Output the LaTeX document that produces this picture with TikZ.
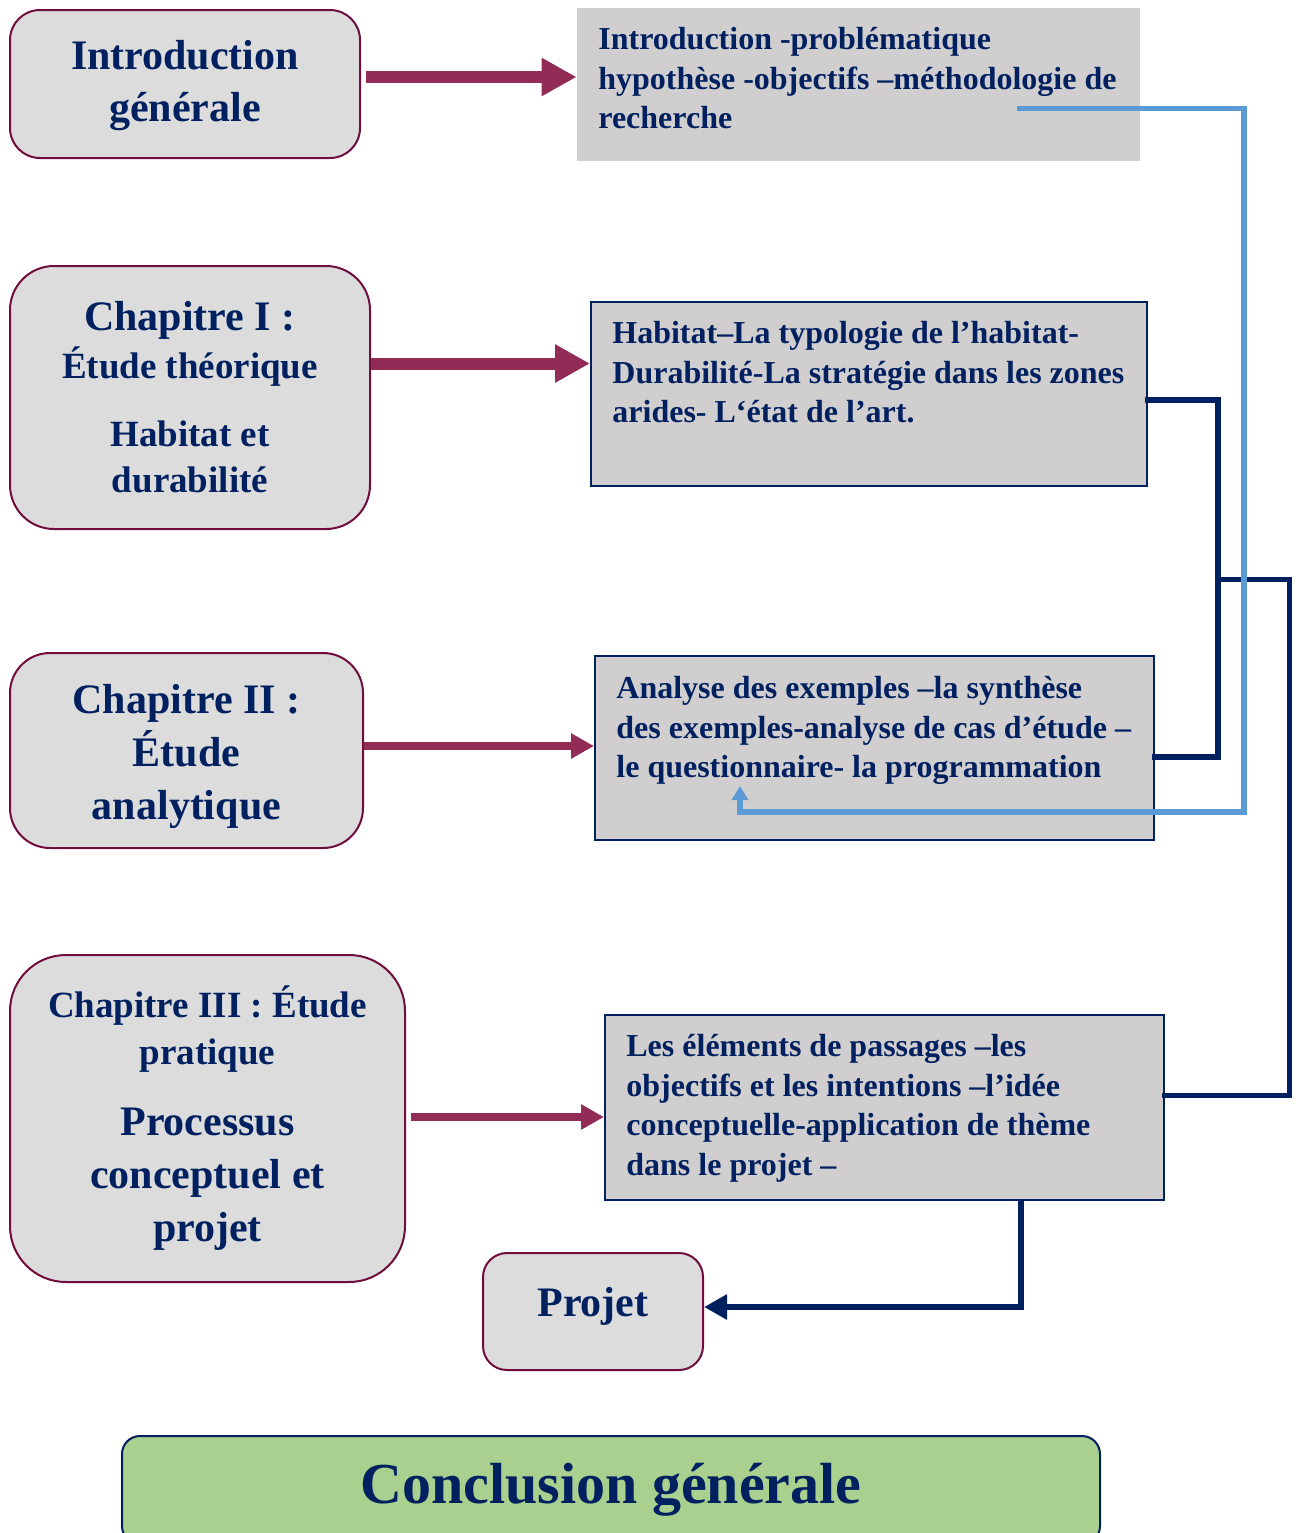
\documentclass[tikz,border=0pt]{standalone}
\usepackage{fontspec}
\setmainfont{Liberation Serif}
\usetikzlibrary{arrows.meta}
\definecolor{navy}{HTML}{002060}
\definecolor{maroonb}{HTML}{700D3C}
\definecolor{arrmaroon}{HTML}{922B55}
\definecolor{lgray}{HTML}{DCDCDC}
\definecolor{rgray}{HTML}{D0CECE}
\definecolor{lblue}{HTML}{5B9BD5}
\definecolor{lgreen}{HTML}{A9D08E}
\tikzset{
  leftbox/.style={draw=maroonb, line width=1pt, fill=lgray, text=navy, align=center, inner sep=0pt,
    font=\bfseries\fontsize{21}{26}\selectfont},
  rightbox/.style={fill=rgray, inner sep=0pt},
  rightframe/.style={rightbox, draw=navy, line width=1pt},
  rtext/.style={text=navy, align=left, anchor=north west, inner sep=0pt,
    font=\bfseries\fontsize{16}{19.75}\selectfont},
  bigarr/.style={draw=arrmaroon, line width=6pt, -{Triangle[length=17.5pt,width=18pt]}},
  midarr/.style={draw=arrmaroon, line width=4pt, -{Triangle[length=11.5pt,width=12pt]}},
  navyline/.style={draw=navy, line width=2.75pt},
  blueline/.style={draw=lblue, line width=2.75pt},
}
\begin{document}
\begin{tikzpicture}[x=0.5pt,y=-0.5pt]
\useasboundingbox (0,0) rectangle (1298,1533);

% left boxes
\node[leftbox, rounded corners=15pt, minimum width=175pt, minimum height=74pt] (introL) at (185,84)
  {\rule{0pt}{16.5pt}Introduction\\générale};
\node[leftbox, rounded corners=22pt, minimum width=180pt, minimum height=131.5pt,
  font=\bfseries\fontsize{18.5}{23}\selectfont] (chap1) at (190,397.5)
  {{\fontsize{21}{23}\selectfont Chapitre I :}\\[1pt]Étude théorique\\[11pt]Habitat et\\durabilité};
\node[leftbox, rounded corners=20pt, minimum width=176.5pt, minimum height=97.5pt,
  font=\bfseries\fontsize{21}{26.4}\selectfont] (chap2) at (186.5,750.5)
  {\rule{0pt}{20.5pt}Chapitre II :\\Étude\\analytique};
\node[leftbox, rounded corners=28pt, minimum width=197.5pt, minimum height=163.5pt,
  font=\bfseries\fontsize{18.5}{23.5}\selectfont] (chap3) at (207.5,1118.5)
  {Chapitre III : Étude\\pratique\\[12pt]{\fontsize{21}{23}\selectfont Processus}\\[3pt]{\fontsize{21}{23}\selectfont conceptuel et}\\[3pt]{\fontsize{21}{23}\selectfont projet}};
\node[leftbox, rounded corners=12pt, minimum width=110pt, minimum height=58.5pt] (projet) at (593,1311.5)
  {Projet\rule[-9.5pt]{0pt}{0pt}};
\node[leftbox, draw=navy, fill=lgreen, rounded corners=9pt, minimum width=489pt, minimum height=54pt,
  font=\bfseries\fontsize{29}{34}\selectfont] (concl) at (611,1490)
  {Conclusion générale};

% right boxes
\node[rightbox, minimum width=281.5pt, minimum height=76.5pt] (introR) at (858.5,84.5) {};
\node[rightframe, minimum width=278pt, minimum height=92pt] (habitat) at (869,394) {};
\node[rightframe, minimum width=279.5pt, minimum height=92pt] (analyse) at (874.5,748) {};
\node[rightframe, minimum width=279.5pt, minimum height=92.5pt] (elements) at (884.5,1107.5) {};

\node[rtext] (introT) at (598,27) {Introduction -problématique\\hypothèse -objectifs –méthodologie de\\recherche};
\node[rtext] (habitatT) at (612,321) {Habitat–La typologie de l’habitat-\\Durabilité-La stratégie dans les zones\\arides- L‘état de l’art.};
\node[rtext] (analyseT) at (616,676) {Analyse des exemples –la synthèse\\des exemples-analyse de cas d’étude –\\le questionnaire- la programmation};
\node[rtext] (elementsT) at (626,1034) {Les éléments de passages –les\\objectifs et les intentions –l’idée\\conceptuelle-application de thème\\dans le projet –};

% maroon arrows
\draw[bigarr] ([xshift=2.5pt,yshift=3.5pt]introL.east) -- ([yshift=3.5pt]introL.east -| introR.west);
\draw[bigarr] ([yshift=17pt]chap1.east) -- ([yshift=17pt]chap1.east -| habitat.west);
\draw[midarr] ([yshift=2.25pt]chap2.east) -- ([yshift=2.25pt]chap2.east -| analyse.west);
\draw[midarr] ([xshift=2.5pt,yshift=0.75pt]chap3.east) -- ([yshift=0.75pt]chap3.east -| elements.west);

% navy connectors
\coordinate (j1) at (1218,579.5);
\coordinate (j2) at (1289.5,579.5);
\draw[navyline, line cap=rect] ([yshift=-3pt]habitat.east) -| (j1) |- ([yshift=-4.5pt]analyse.east);
\draw[navyline, line cap=rect] (j1) -- (j2) |- ([yshift=6pt]elements.east);
\draw[navyline, line width=3pt, -{Triangle[length=11.5pt,width=12pt]}] ([xshift=68.25pt]elements.south) |- ([yshift=2.25pt]projet.east);

% light blue connector
\coordinate (b1) at (1244,812);
\draw[blueline, -{Triangle[length=7pt,width=8pt]}] ([xshift=79.25pt,yshift=-12pt]introR.center) -| (b1) -| ([xshift=-67.25pt,yshift=-19pt]analyse.center);
\end{tikzpicture}
\end{document}
